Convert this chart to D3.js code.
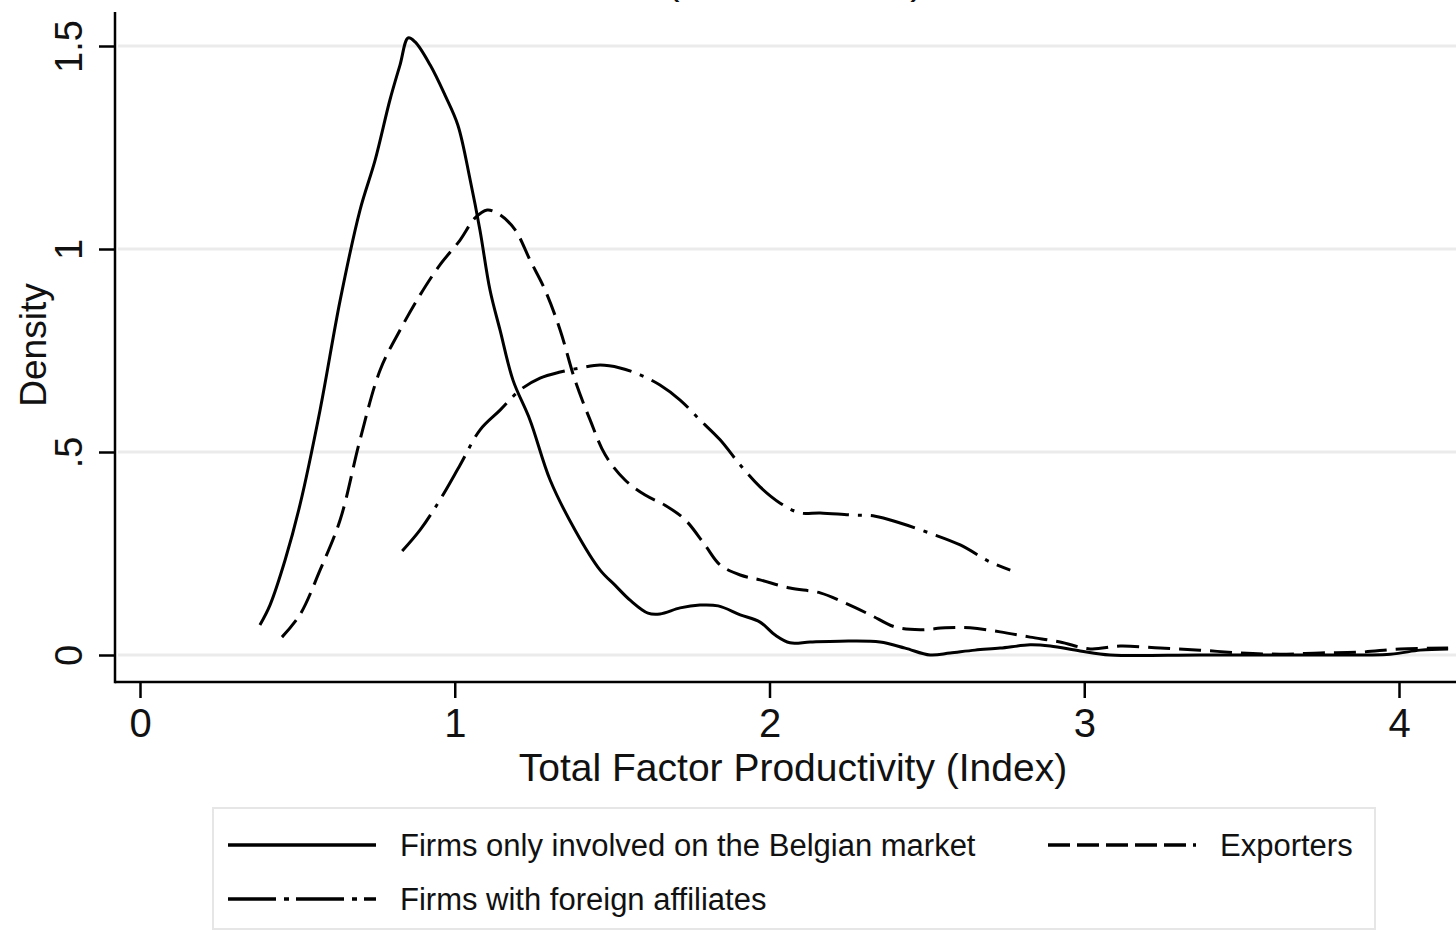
<!DOCTYPE html>
<html>
<head>
<meta charset="utf-8">
<script src="https://cdn.jsdelivr.net/npm/d3@7"></script>
<style>
  html, body { margin: 0; padding: 0; background: #ffffff; }
  svg { display: block; }
  text { font-family: "Liberation Sans", Arial, sans-serif; fill: #111; }
</style>
</head>
<body>
<svg id="chart" width="1456" height="932"></svg>
<script>
// Kernel density of TFP by firm type
const xTicks = [0, 1, 2, 3, 4];
const yTicks = [0, 0.5, 1, 1.5];
const yTickLabels = ["0", ".5", "1", "1.5"];

const seriesNames = [
  "Firms only involved on the Belgian market",
  "Exporters",
  "Firms with foreign affiliates"
];

// Firms only involved on the Belgian market
const domesticTfp = [0.381, 0.413, 0.461, 0.508, 0.572, 0.636, 0.699, 0.747, 0.794, 0.826, 0.852, 0.874, 0.922, 0.969, 1.010, 1.049, 1.080, 1.112, 1.144, 1.185, 1.239, 1.303, 1.382, 1.462, 1.509, 1.557, 1.614, 1.652, 1.716, 1.779, 1.837, 1.907, 1.970, 2.018, 2.065, 2.129, 2.224, 2.351, 2.431, 2.510, 2.574, 2.653, 2.733, 2.828, 2.892, 2.987, 3.082, 3.368, 3.686, 3.972, 4.067, 4.156];
const domesticDensity = [0.074, 0.123, 0.234, 0.369, 0.603, 0.874, 1.096, 1.219, 1.367, 1.453, 1.520, 1.510, 1.453, 1.379, 1.305, 1.170, 1.047, 0.899, 0.800, 0.677, 0.579, 0.431, 0.308, 0.209, 0.172, 0.135, 0.103, 0.101, 0.116, 0.123, 0.121, 0.099, 0.081, 0.049, 0.030, 0.032, 0.034, 0.032, 0.017, 0.000, 0.005, 0.012, 0.017, 0.025, 0.022, 0.010, 0.000, 0.000, 0.000, 0.002, 0.012, 0.015];

// Exporters
const exporterTfp = [0.451, 0.508, 0.572, 0.636, 0.699, 0.763, 0.826, 0.890, 0.953, 1.017, 1.064, 1.103, 1.144, 1.192, 1.239, 1.287, 1.335, 1.382, 1.430, 1.478, 1.541, 1.605, 1.668, 1.732, 1.795, 1.843, 1.907, 1.970, 2.065, 2.161, 2.240, 2.320, 2.399, 2.479, 2.558, 2.637, 2.733, 2.828, 2.923, 3.019, 3.114, 3.241, 3.368, 3.495, 3.622, 3.750, 3.877, 4.004, 4.156];
const exporterDensity = [0.044, 0.099, 0.209, 0.333, 0.530, 0.702, 0.800, 0.887, 0.961, 1.022, 1.076, 1.096, 1.084, 1.047, 0.973, 0.899, 0.800, 0.677, 0.579, 0.493, 0.431, 0.394, 0.369, 0.333, 0.271, 0.222, 0.197, 0.185, 0.165, 0.153, 0.128, 0.099, 0.069, 0.062, 0.067, 0.067, 0.057, 0.044, 0.032, 0.015, 0.022, 0.017, 0.012, 0.005, 0.002, 0.005, 0.007, 0.015, 0.017];

// Firms with foreign affiliates
const affiliateTfp = [0.833, 0.890, 0.953, 1.017, 1.080, 1.144, 1.208, 1.271, 1.335, 1.398, 1.462, 1.525, 1.589, 1.652, 1.716, 1.779, 1.843, 1.907, 1.970, 2.034, 2.097, 2.161, 2.256, 2.336, 2.415, 2.510, 2.606, 2.701, 2.765];
const affiliateDensity = [0.256, 0.308, 0.382, 0.468, 0.554, 0.603, 0.653, 0.682, 0.697, 0.707, 0.714, 0.707, 0.690, 0.665, 0.628, 0.579, 0.530, 0.468, 0.414, 0.374, 0.350, 0.350, 0.345, 0.342, 0.325, 0.300, 0.271, 0.229, 0.209];

const svg = d3.select("#chart");

const x = d3.scaleLinear().domain([0, 4]).range([140, 1399]);
const y = d3.scaleLinear().domain([0, 1.5]).range([655, 46]);

const frameLeft = 115, frameBottom = 682, frameTop = 12, frameRight = 1456;

// Title parentheses, mostly above the top edge
svg.append("text").attr("x", 673).attr("y", -6).attr("font-size", 40).attr("text-anchor", "middle").text("(");
svg.append("text").attr("x", 917).attr("y", -6).attr("font-size", 40).attr("text-anchor", "middle").text(")");

// Horizontal grid
svg.append("g")
  .selectAll("line")
  .data(yTicks)
  .join("line")
  .attr("x1", frameLeft + 3).attr("x2", frameRight)
  .attr("y1", d => y(d)).attr("y2", d => y(d))
  .attr("stroke", "#ebebeb").attr("stroke-width", 3);

// Density curves
const line = d3.line().curve(d3.curveCatmullRom.alpha(0.5)).x(d => x(d[0])).y(d => y(d[1]));
const curves = [
  { xs: domesticTfp, ys: domesticDensity, dash: null },
  { xs: exporterTfp, ys: exporterDensity, dash: "22,9" },
  { xs: affiliateTfp, ys: affiliateDensity, dash: "46,9,4,9" }
];
svg.append("g")
  .selectAll("path")
  .data(curves)
  .join("path")
  .attr("d", c => line(d3.zip(c.xs, c.ys)))
  .attr("fill", "none")
  .attr("stroke", "#000")
  .attr("stroke-width", 3)
  .attr("stroke-linejoin", "round")
  .attr("stroke-dasharray", c => c.dash);

// Axes
const xAxis = d3.axisBottom(x).tickValues(xTicks).tickFormat(d3.format("d")).tickSize(16).tickSizeOuter(0).tickPadding(11);
const gx = svg.append("g").attr("transform", `translate(0,${frameBottom})`).call(xAxis);
gx.select(".domain").remove();
gx.selectAll(".tick line").attr("stroke", "#000").attr("stroke-width", 2.5);
gx.selectAll(".tick text").attr("font-size", 40).attr("font-family", "Liberation Sans, Arial, sans-serif").attr("fill", "#111");

const yAxis = d3.axisLeft(y).tickValues(yTicks).tickFormat((d, i) => yTickLabels[i]).tickSize(16).tickSizeOuter(0);
const gy = svg.append("g").attr("transform", `translate(${frameLeft},0)`).call(yAxis);
gy.select(".domain").remove();
gy.selectAll(".tick line").attr("stroke", "#000").attr("stroke-width", 2.5);
gy.selectAll(".tick text")
  .attr("font-size", 38)
  .attr("font-family", "Liberation Sans, Arial, sans-serif")
  .attr("fill", "#111")
  .attr("text-anchor", "middle")
  .attr("dy", null)
  .attr("x", null)
  .attr("transform", "translate(-33,0) rotate(-90)");

// Frame lines
svg.append("line").attr("x1", frameLeft).attr("x2", frameLeft).attr("y1", frameTop).attr("y2", frameBottom + 1.25)
  .attr("stroke", "#000").attr("stroke-width", 2.5);
svg.append("line").attr("x1", frameLeft).attr("x2", frameRight).attr("y1", frameBottom).attr("y2", frameBottom)
  .attr("stroke", "#000").attr("stroke-width", 2.5);

// Axis titles
svg.append("text").attr("x", 793).attr("y", 781).attr("font-size", 39).attr("text-anchor", "middle")
  .text("Total Factor Productivity (Index)");
svg.append("text").attr("transform", `translate(46,345) rotate(-90)`).attr("font-size", 37).attr("text-anchor", "middle")
  .text("Density");

// Legend
const legend = svg.append("g");
legend.append("rect").attr("x", 213).attr("y", 808).attr("width", 1162).attr("height", 121)
  .attr("fill", "#fff").attr("stroke", "#e6e6e6").attr("stroke-width", 2);

const legendItems = [
  { name: seriesNames[0], dash: null, lx: 228, ty: 845 },
  { name: seriesNames[1], dash: "22,7", lx: 1048, ty: 845 },
  { name: seriesNames[2], dash: "48,8,5,7", lx: 228, ty: 899 }
];
const li = legend.selectAll("g.item").data(legendItems).join("g").attr("class", "item");
li.append("line")
  .attr("x1", d => d.lx).attr("x2", d => d.lx + 148)
  .attr("y1", d => d.ty).attr("y2", d => d.ty)
  .attr("stroke", "#000").attr("stroke-width", 3.5)
  .attr("stroke-dasharray", d => d.dash);
li.append("text")
  .attr("x", d => d.lx + 172).attr("y", d => d.ty + 11)
  .attr("font-size", 31)
  .text(d => d.name);
</script>
</body>
</html>
